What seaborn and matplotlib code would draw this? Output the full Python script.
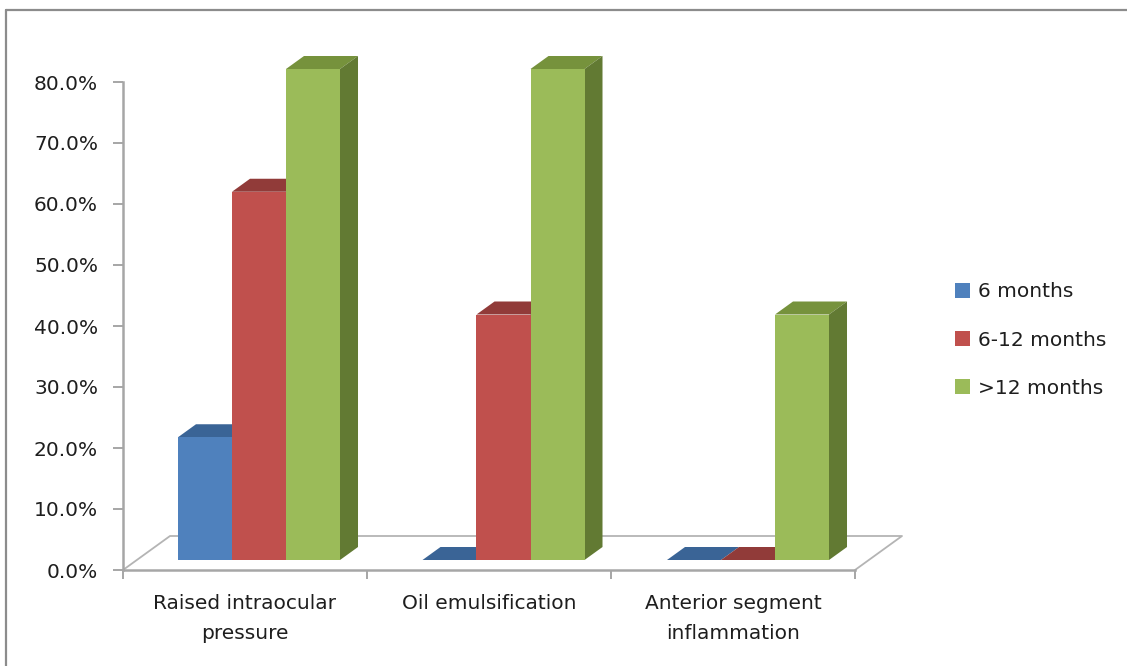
import numpy as np
import pandas as pd
import matplotlib
matplotlib.use("Agg")
import matplotlib.pyplot as plt
from matplotlib.patches import Polygon
from matplotlib.lines import Line2D
from matplotlib.colors import to_hex
import seaborn as sns

# ---- data -------------------------------------------------------------
issues = ["Raised intraocular pressure", "Oil emulsification",
          "Anterior segment inflammation"]
issue_labels = ["Raised intraocular\npressure", "Oil emulsification",
                "Anterior segment\ninflammation"]
periods = ["6 months", "6-12 months", ">12 months"]
six_months = [20.0, 0.0, 0.0]
six_to_twelve = [60.0, 40.0, 0.0]
over_twelve = [80.0, 80.0, 40.0]
y_ticks = [0, 10, 20, 30, 40, 50, 60, 70, 80]

front_colors = ["#4F81BD", "#C0504D", "#9BBB59"]
top_colors = ["#3A6496", "#913B39", "#76923C"]
side_colors = ["#2F5280", "#7A2E2C", "#627A33"]

df = pd.DataFrame({
    "issue": np.repeat(issues, len(periods)),
    "period": periods * len(issues),
    "value": np.ravel(np.column_stack([six_months, six_to_twelve, over_twelve])),
})

# ---- figure -----------------------------------------------------------
sns.set_style("white")
plt.rcParams["font.family"] = ["DejaVu Sans"]
W, H = 1127, 666
fig = plt.figure(figsize=(W / 100, H / 100), dpi=100)
fig.patch.set_facecolor("white")

text_color = "#1E1E1E"
axis_gray = "#A6A6A6"
fs = 14.5

# axis frame (front edge of the floor)
ax2 = fig.add_axes([123 / W, (H - 570) / H, (855 - 123) / W, (570 - 82) / H])
ax2.set_xlim(-0.5, 2.5)
ax2.set_ylim(0, 80)
for s in ["top", "right"]:
    ax2.spines[s].set_visible(False)
for s in ["left", "bottom"]:
    ax2.spines[s].set_color(axis_gray)
    ax2.spines[s].set_linewidth(1.8)
ax2.set_yticks(y_ticks)
ax2.set_yticklabels([f"{v:.1f}%" for v in y_ticks], fontsize=fs, color=text_color)
ax2.tick_params(axis="y", left=True, direction="out", length=7, width=1.4,
                color=axis_gray, pad=11)
ax2.set_xticks([0, 1, 2])
ax2.set_xticklabels(issue_labels, fontsize=fs, color=text_color)
for t in ax2.get_xticklabels():
    t.set_linespacing(1.75)
ax2.tick_params(axis="x", which="major", bottom=True, length=0, pad=17)
ax2.set_xticks([-0.5, 0.5, 1.5, 2.5], minor=True)
ax2.tick_params(axis="x", which="minor", bottom=True, direction="out", length=6.5,
                width=1.4, color=axis_gray)
ax2.patch.set_visible(False)

# floor outline (back and side edges)
fx = ax2.transData.transform([[0, 0], [1, 0]])
fy = ax2.transData.transform([[0, 0], [0, 1]])
ppx2 = fx[1, 0] - fx[0, 0]
ppy2 = fy[1, 1] - fy[0, 1]
ddx, ddy = 47 / ppx2, 34 / ppy2
floor_x = [-0.5, -0.5 + ddx, 2.5 + ddx, 2.5]
floor_y = [0, ddy, ddy, 0]
ax2.plot(floor_x, floor_y, color="#B4B4B4", lw=1.3, clip_on=False, zorder=1)

# bar front faces
ax = fig.add_axes([136.75 / W, (H - 560) / H, 733.5 / W, 491 / H])
sns.barplot(data=df, x="issue", y="value", hue="period", hue_order=periods,
            order=issues, palette=front_colors, saturation=1, width=0.6626,
            gap=0, errorbar=None, linewidth=0, edgecolor="none", ax=ax, zorder=3)
ax.set_xlim(-0.5, 2.5)
ax.set_ylim(0, 80)
if ax.get_legend() is not None:
    ax.get_legend().remove()
ax.set_axis_off()

# depth faces of each bar
p = ax.transData.transform([[0, 0], [1, 1]])
ppx, ppy = p[1, 0] - p[0, 0], p[1, 1] - p[0, 1]
dx, dy = 18 / ppx, 13 / ppy
hex_front = [c.lower() for c in front_colors]
for bar in ax.patches:
    idx = hex_front.index(to_hex(bar.get_facecolor()).lower())
    x0, w, h = bar.get_x(), bar.get_width(), bar.get_height()
    top = Polygon([(x0, h), (x0 + w, h), (x0 + w + dx, h + dy), (x0 + dx, h + dy)],
                  closed=True, facecolor=top_colors[idx], edgecolor="none",
                  zorder=2, clip_on=False)
    ax.add_patch(top)
    if h > 0:
        side = Polygon([(x0 + w, 0), (x0 + w, h), (x0 + w + dx, h + dy), (x0 + w + dx, dy)],
                       closed=True, facecolor=side_colors[idx], edgecolor="none",
                       zorder=2, clip_on=False)
        ax.add_patch(side)
    bar.set_clip_on(False)
    bar.set_zorder(3)

# legend
leg_handles = [plt.Rectangle((0, 0), 1, 1, facecolor=c, edgecolor="none") for c in front_colors]
fig.legend(leg_handles, periods, loc="center left",
           bbox_to_anchor=(955 / W, (H - 340) / H), bbox_transform=fig.transFigure,
           frameon=False, fontsize=fs, handlelength=0.75, handleheight=0.75,
           handletextpad=0.4, labelspacing=1.45, borderpad=0, borderaxespad=0,
           labelcolor=text_color)

# chart area border
border_color = "#8C8C8C"
fig.add_artist(Line2D([6 / W, 1.0], [(H - 9.5) / H, (H - 9.5) / H],
                      transform=fig.transFigure, color=border_color, lw=1.6))
fig.add_artist(Line2D([6 / W, 6 / W], [(H - 9.5) / H, 0.0],
                      transform=fig.transFigure, color=border_color, lw=1.6))

fig.savefig("out.png", dpi=100, facecolor="white")
